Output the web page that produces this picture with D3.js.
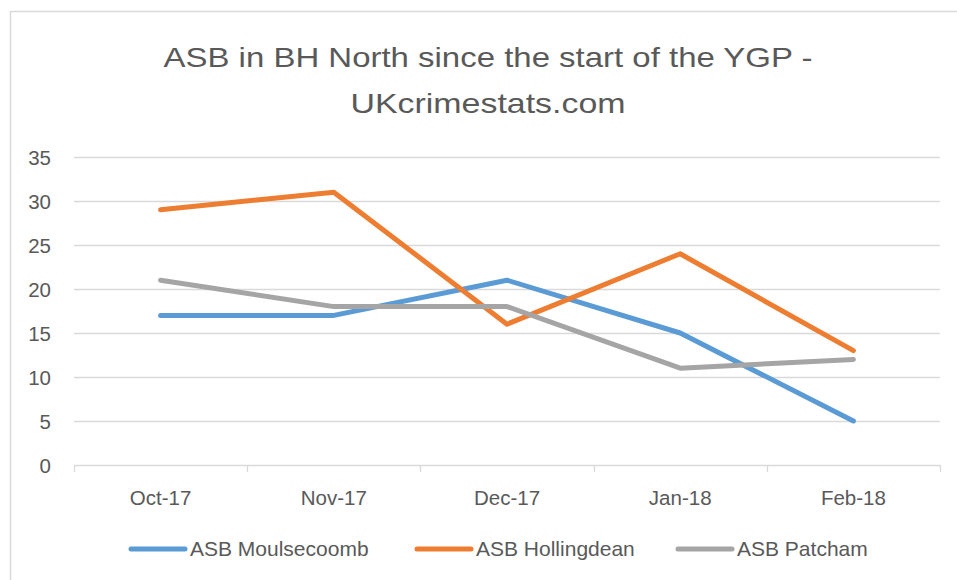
<!DOCTYPE html>
<html>
<head>
<meta charset="utf-8">
<script src="https://cdn.jsdelivr.net/npm/d3@7"></script>
<style>
  html, body { margin: 0; padding: 0; background: #fff; }
  svg { display: block; }
  text { font-family: "Liberation Sans", Arial, sans-serif; fill: #595959; }
</style>
</head>
<body>
<svg id="chart" width="957" height="580"></svg>
<script>
// ---- data ----
const categories = ["Oct-17", "Nov-17", "Dec-17", "Jan-18", "Feb-18"];
const seriesNames = ["ASB Moulsecoomb", "ASB Hollingdean", "ASB Patcham"];
const moulsecoomb = [17, 17, 21, 15, 5];
const hollingdean = [29, 31, 16, 24, 13];
const patcham = [21, 18, 18, 11, 12];
const yTicks = [0, 5, 10, 15, 20, 25, 30, 35];
const titleLines = ["ASB in BH North since the start of the YGP -", "UKcrimestats.com"];
const colors = ["#5B9BD5", "#ED7D31", "#A5A5A5"];

const series = [
  { name: seriesNames[0], values: moulsecoomb, color: colors[0] },
  { name: seriesNames[1], values: hollingdean, color: colors[1] },
  { name: seriesNames[2], values: patcham, color: colors[2] }
];

const svg = d3.select("#chart");

// chart border
svg.append("rect")
  .attr("x", 10.5).attr("y", 11.5)
  .attr("width", 1000).attr("height", 1000)
  .attr("fill", "#fff").attr("stroke", "#d9d9d9").attr("stroke-width", 1.5);

// title
const titleTargets = [649, 275];
const titleY = [57, 103];
titleLines.forEach((t, i) => {
  const el = svg.append("text")
    .attr("x", 488).attr("y", titleY[i])
    .attr("text-anchor", "middle")
    .attr("dominant-baseline", "central")
    .style("font-size", "28px")
    .text(t);
  const w = el.node().getComputedTextLength();
  if (Math.abs(w - titleTargets[i]) > 2) {
    el.attr("textLength", titleTargets[i]).attr("lengthAdjust", "spacingAndGlyphs");
  }
});

// scales
const x = d3.scaleBand().domain(categories).range([74, 940]);
const y = d3.scaleLinear().domain([0, 35]).range([465, 157]);

// gridlines
svg.append("g")
  .selectAll("line")
  .data(yTicks.filter(d => d > 0))
  .join("line")
  .attr("x1", 74).attr("x2", 940)
  .attr("y1", d => Math.round(y(d)) + 0.5)
  .attr("y2", d => Math.round(y(d)) + 0.5)
  .attr("stroke", "#d9d9d9").attr("stroke-width", 1.3);

// y axis labels
const yAxis = d3.axisLeft(y).tickValues(yTicks).tickSize(0).tickPadding(0);
const gy = svg.append("g").attr("transform", "translate(51,0)").call(yAxis);
gy.select(".domain").remove();
gy.selectAll("text")
  .style("font-size", "20.5px")
  .style("font-family", '"Liberation Sans", Arial, sans-serif')
  .attr("fill", "#595959").attr("dy", "0.35em");

// x axis
const xAxis = d3.axisBottom(x).tickSize(0).tickPadding(0);
const gx = svg.append("g").attr("transform", "translate(0,465.5)").call(xAxis);
gx.select(".domain").attr("stroke", "#d9d9d9").attr("stroke-width", 1.3)
  .attr("d", "M74,0H940");
gx.selectAll("text")
  .attr("y", 32)
  .attr("dy", "0.35em")
  .style("font-size", "20.5px")
  .style("font-family", '"Liberation Sans", Arial, sans-serif')
  .attr("fill", "#595959");
// boundary tick marks
const bounds = categories.map(c => x(c)).concat([x(categories[categories.length - 1]) + x.bandwidth()]);
svg.append("g").selectAll("line")
  .data(bounds)
  .join("line")
  .attr("x1", d => Math.round(d) + 0.5).attr("x2", d => Math.round(d) + 0.5)
  .attr("y1", 465).attr("y2", 472)
  .attr("stroke", "#d9d9d9").attr("stroke-width", 1.3);

// lines
const line = d3.line()
  .x((d, i) => x(categories[i]) + x.bandwidth() / 2)
  .y(d => y(d));

svg.append("g").selectAll("path")
  .data(series)
  .join("path")
  .attr("d", d => line(d.values))
  .attr("fill", "none")
  .attr("stroke", d => d.color)
  .attr("stroke-width", 5)
  .attr("stroke-linecap", "round")
  .attr("stroke-linejoin", "round");

// legend
const legendX = [131, 417, 678];
const legendY = 549;
const lg = svg.append("g").selectAll("g")
  .data(series)
  .join("g")
  .attr("transform", (d, i) => `translate(${legendX[i]},${legendY})`);
lg.append("line")
  .attr("x1", 0).attr("x2", 54)
  .attr("y1", 0).attr("y2", 0)
  .attr("stroke", d => d.color)
  .attr("stroke-width", 5)
  .attr("stroke-linecap", "round");
lg.append("text")
  .attr("x", 59).attr("y", 0)
  .attr("dy", "0.35em")
  .style("font-size", "21px")
  .text(d => d.name);
</script>
</body>
</html>
